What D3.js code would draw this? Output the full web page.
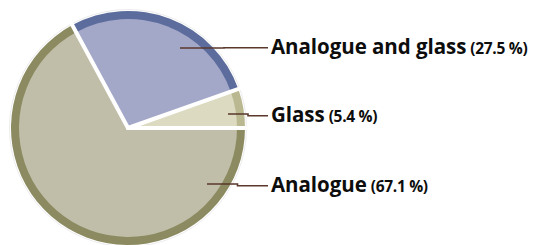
<!DOCTYPE html>
<html>
<head>
<meta charset="utf-8">
<style>
body { margin: 0; background: #fff; }
.label { font-family: "Open Sans", sans-serif; font-weight: 700; fill: #0d0d0d; }
.label .name { font-size: 20.5px; letter-spacing: -0.05px; }
.label .pct { font-size: 15.5px; letter-spacing: -0.3px; }
.leader { stroke: #5a382c; stroke-width: 1.6px; fill: none; }
</style>
</head>
<body>
<svg width="535" height="245"></svg>
<script src="https://cdn.jsdelivr.net/npm/d3@7/dist/d3.min.js"></script>
<script>

// data
var categories = ["Analogue", "Analogue and glass", "Glass"];
var shares = [67.1, 27.5, 5.4];
var pctLabels = ["(67.1 %)", "(27.5 %)", "(5.4 %)"];

// look
var fills = ["#c0bea8", "#a4a8c8", "#dcdbc2"];
var rims  = ["#8b8a60", "#5b6c9d", "#b9b890"];
// label anchor (leader start x,y / label y)
var anchors = [[207, 184, 185], [180, 48, 47], [228, 114, 115]];

var svg = d3.select("svg"),
    cx = 128, cy = 128, R = 117, rim = 8;

var pie = d3.pie().sort(null)
    .startAngle(Math.PI / 2)
    .endAngle(Math.PI / 2 + 2 * Math.PI)
    .value(function(d) { return d; });

var arcs = pie(shares);

var g = svg.append("g").attr("transform", "translate(" + cx + "," + cy + ")");

// faint halo
g.append("circle").attr("r", R + 1.5).attr("fill", "none")
    .attr("stroke", "#ececec").attr("stroke-width", 1);

var outer = d3.arc().innerRadius(0).outerRadius(R);
var inner = d3.arc().innerRadius(0).outerRadius(R - rim);

g.selectAll("path.rim").data(arcs).enter().append("path")
    .attr("class", "rim")
    .attr("d", outer)
    .attr("fill", function(d, i) { return rims[i]; });

g.selectAll("path.fill").data(arcs).enter().append("path")
    .attr("class", "fill")
    .attr("d", inner)
    .attr("fill", function(d, i) { return fills[i]; });

// white separators along slice starts
g.selectAll("line.sep").data(arcs).enter().append("line")
    .attr("class", "sep")
    .attr("x1", 0).attr("y1", 0)
    .attr("x2", function(d) { return Math.sin(d.startAngle) * (R + 1); })
    .attr("y2", function(d) { return -Math.cos(d.startAngle) * (R + 1); })
    .attr("stroke", "#fff").attr("stroke-width", 4)
    .attr("stroke-linecap", "round");

// leaders + labels
var labelX = 268;
svg.selectAll("path.leader").data(anchors).enter().append("path")
    .attr("class", "leader")
    .attr("d", function(a) {
      var mid = (a[0] + labelX) / 2;
      return "M" + a[0] + "," + a[1] + "L" + mid + "," + a[1] + "L" + mid + "," + (a[2] + 0.8) + "L" + labelX + "," + (a[2] + 0.8);
    });

var t = svg.selectAll("text.label").data(categories).enter().append("text")
    .attr("class", "label")
    .attr("x", labelX + 3)
    .attr("y", function(d, i) { return anchors[i][2] + 7; });
t.append("tspan").attr("class", "name").text(function(d) { return d; });
t.append("tspan").attr("class", "pct").attr("dx", 4).text(function(d, i) { return pctLabels[i]; });

</script>
</body>
</html>
